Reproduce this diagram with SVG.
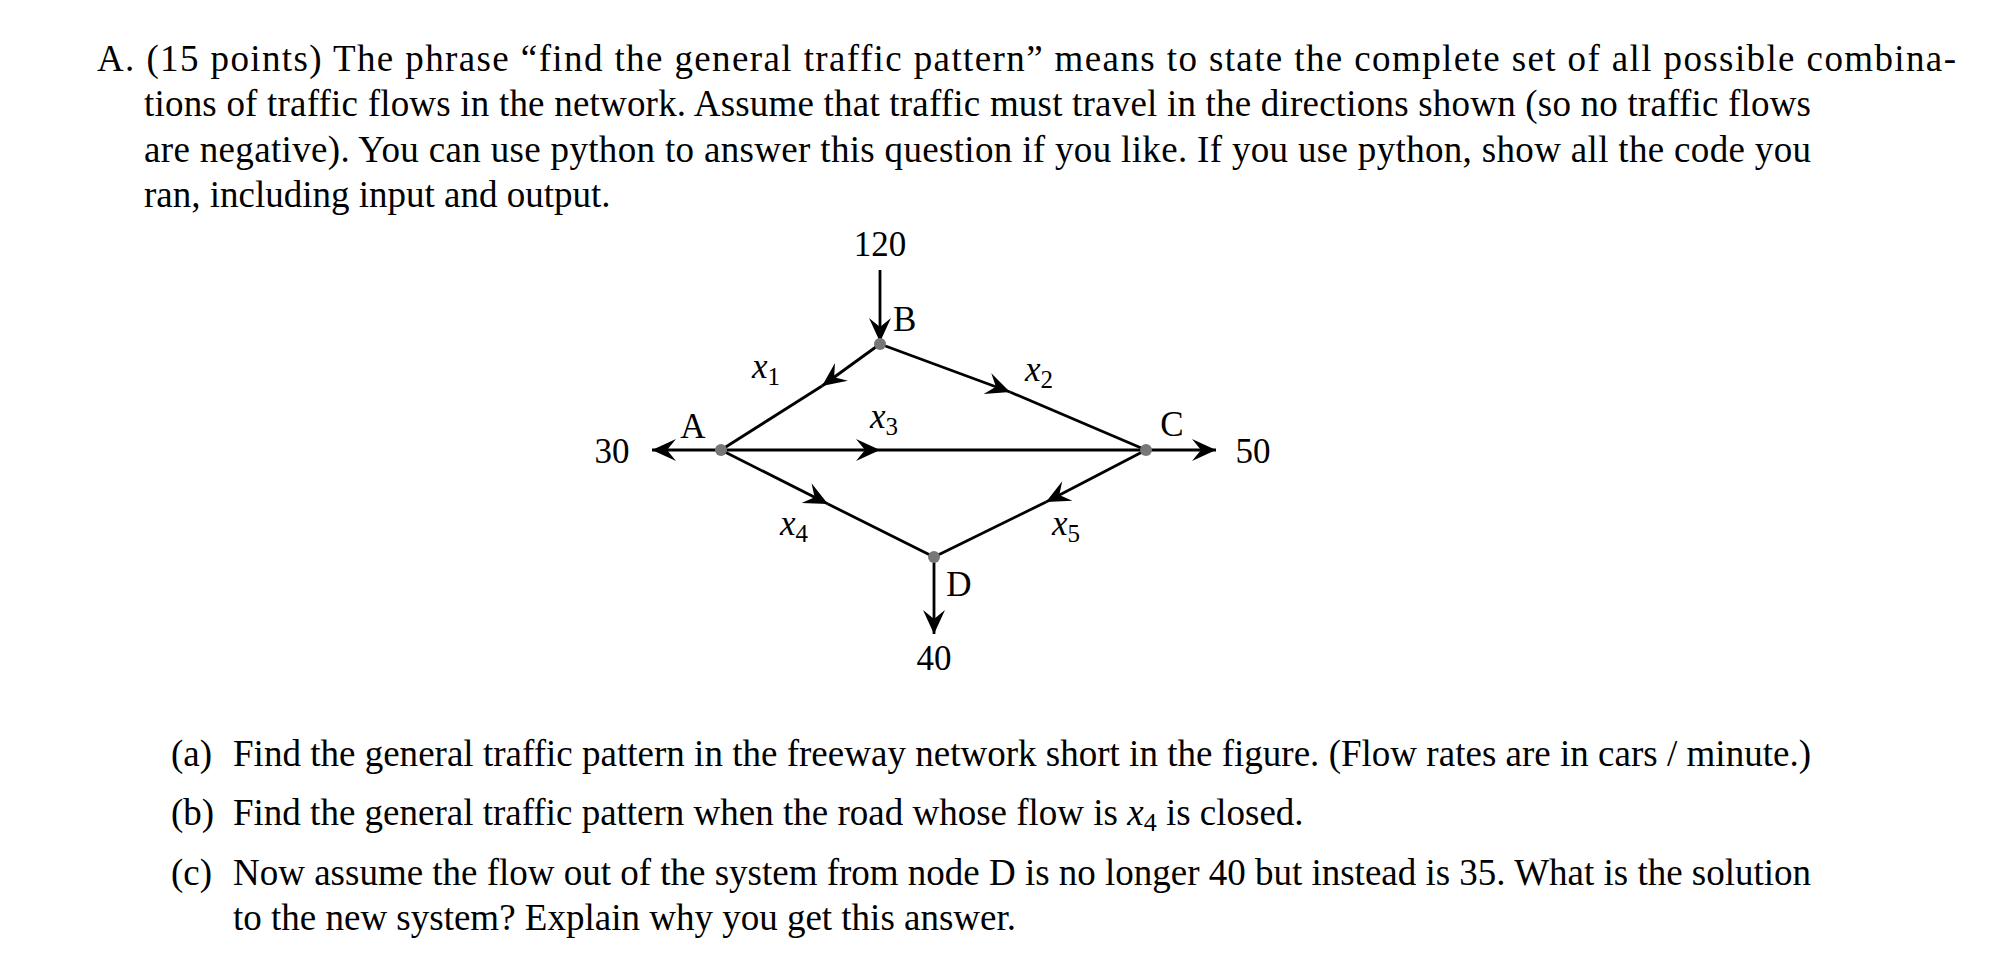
<svg xmlns="http://www.w3.org/2000/svg" width="2008" height="960" viewBox="0 0 2008 960">
<style>
text{font-family:"Liberation Serif","Times New Roman",serif;fill:#000}
.t{font-size:37px}
.d{font-size:35px}
.x{font-size:35px;font-style:italic}
.s{font-size:25px;font-style:normal}
.e{stroke:#000;stroke-width:2.8;fill:none}
.n{fill:#777}
</style>
<defs>
<marker id="ah" markerWidth="30" markerHeight="24" viewBox="-26 -12 28 24" refX="0" refY="0" orient="auto" markerUnits="userSpaceOnUse">
<path d="M0,0 L-24,-11 L-15,0 L-24,11 Z" fill="#000"/>
</marker>
</defs>
<rect width="2008" height="960" fill="#fff"/>
<g id="header">
<text class="t" x="97" y="71" textLength="1859" lengthAdjust="spacing">A. (15 points) The phrase “find the general traffic pattern” means to state the complete set of all possible combina-</text>
<text class="t" x="144" y="116" textLength="1667" lengthAdjust="spacing">tions of traffic flows in the network. Assume that traffic must travel in the directions shown (so no traffic flows</text>
<text class="t" x="144" y="162" textLength="1667" lengthAdjust="spacing">are negative). You can use python to answer this question if you like. If you use python, show all the code you</text>
<text class="t" x="144" y="207">ran, including input and output.</text>
</g>
<g id="connectors">
<line class="e" x1="880" y1="270" x2="880" y2="342" marker-end="url(#ah)"/>
<line class="e" x1="880" y1="344" x2="822" y2="386" marker-end="url(#ah)"/>
<line class="e" x1="822" y1="386" x2="721" y2="450"/>
<line class="e" x1="880" y1="344" x2="1010" y2="392" marker-end="url(#ah)"/>
<line class="e" x1="1010" y1="392" x2="1146" y2="450"/>
<line class="e" x1="721" y1="450" x2="880" y2="450" marker-end="url(#ah)"/>
<line class="e" x1="880" y1="450" x2="1146" y2="450"/>
<line class="e" x1="721" y1="450" x2="828" y2="504" marker-end="url(#ah)"/>
<line class="e" x1="828" y1="504" x2="934" y2="557"/>
<line class="e" x1="1146" y1="450" x2="1046" y2="502" marker-end="url(#ah)"/>
<line class="e" x1="1046" y1="502" x2="934" y2="557"/>
<line class="e" x1="721" y1="450" x2="652" y2="450" marker-end="url(#ah)"/>
<line class="e" x1="1146" y1="450" x2="1216" y2="450" marker-end="url(#ah)"/>
<line class="e" x1="934" y1="557" x2="934" y2="634" marker-end="url(#ah)"/>
</g>
<g id="node-B"><circle class="n" cx="880" cy="344" r="6"/><text class="d" x="893" y="331">B</text></g>
<g id="node-A"><circle class="n" cx="721" cy="450" r="6"/><text class="d" x="693" y="438" text-anchor="middle">A</text></g>
<g id="node-C"><circle class="n" cx="1146" cy="450" r="6"/><text class="d" x="1172" y="436" text-anchor="middle">C</text></g>
<g id="node-D"><circle class="n" cx="934" cy="557" r="6"/><text class="d" x="959" y="596" text-anchor="middle">D</text></g>
<g id="labels">
<text class="d" x="880" y="256" text-anchor="middle">120</text>
<text class="d" x="612" y="463" text-anchor="middle">30</text>
<text class="d" x="1253" y="463" text-anchor="middle">50</text>
<text class="d" x="934" y="670" text-anchor="middle">40</text>
<text class="x" x="752" y="378">x<tspan class="s" dy="7">1</tspan></text>
<text class="x" x="1025" y="381">x<tspan class="s" dy="7">2</tspan></text>
<text class="x" x="870" y="428">x<tspan class="s" dy="7">3</tspan></text>
<text class="x" x="780" y="535">x<tspan class="s" dy="7">4</tspan></text>
<text class="x" x="1052" y="535">x<tspan class="s" dy="7">5</tspan></text>
</g>
<g id="questions">
<text class="t" x="171" y="766">(a)</text>
<text class="t" x="233" y="766" textLength="1578" lengthAdjust="spacing">Find the general traffic pattern in the freeway network short in the figure. (Flow rates are in cars / minute.)</text>
<text class="t" x="171" y="825">(b)</text>
<text class="t" x="233" y="825">Find the general traffic pattern when the road whose flow is <tspan font-style="italic">x</tspan><tspan font-size="26" dy="6">4</tspan><tspan dy="-6"> is closed.</tspan></text>
<text class="t" x="171" y="885">(c)</text>
<text class="t" x="233" y="885" textLength="1578" lengthAdjust="spacing">Now assume the flow out of the system from node D is no longer 40 but instead is 35. What is the solution</text>
<text class="t" x="233" y="930">to the new system? Explain why you get this answer.</text>
</g>
</svg>
